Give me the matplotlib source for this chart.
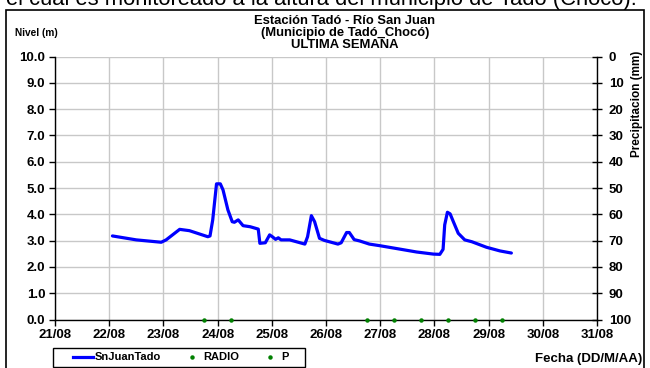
import matplotlib
matplotlib.use("Agg")
import matplotlib.pyplot as plt
from matplotlib.lines import Line2D
from matplotlib.patches import Rectangle

plt.rcParams['font.family'] = ['Liberation Sans', 'DejaVu Sans']

# ---- data (day of August, level in m) ----
nivel_dia = [22.06, 22.50, 22.96, 23.05, 23.30, 23.48, 23.82, 23.86, 23.91, 23.98,
             24.05, 24.10, 24.19, 24.27, 24.31, 24.38, 24.47, 24.60, 24.75, 24.78,
             24.88, 24.96, 25.01, 25.07, 25.12, 25.17, 25.33, 25.61, 25.66, 25.73,
             25.79, 25.88, 25.97, 26.22, 26.28, 26.38, 26.43, 26.52, 26.62, 26.80,
             26.99, 27.36, 27.67, 27.98, 28.10, 28.16, 28.19, 28.24, 28.29, 28.35,
             28.44, 28.56, 28.69, 28.96, 29.21, 29.42]
nivel_m = [3.18, 3.03, 2.94, 3.03, 3.43, 3.38, 3.15, 3.18, 3.79, 5.16,
           5.16, 4.93, 4.17, 3.72, 3.70, 3.79, 3.57, 3.53, 3.44, 2.90,
           2.92, 3.22, 3.15, 3.05, 3.11, 3.03, 3.03, 2.87, 3.15, 3.95,
           3.72, 3.09, 3.01, 2.87, 2.92, 3.31, 3.31, 3.04, 2.99, 2.87,
           2.81, 2.68, 2.57, 2.49, 2.48, 2.67, 3.60, 4.08, 4.02, 3.72,
           3.28, 3.03, 2.96, 2.75, 2.61, 2.53]
radio_dia = []
radio_m = []
p_dia = [23.75, 24.25, 26.75, 27.25, 27.75, 28.25, 28.75, 29.25]
p_m = [0, 0, 0, 0, 0, 0, 0, 0]

x_ticks = [21, 22, 23, 24, 25, 26, 27, 28, 29, 30, 31]
x_labels = ["21/08", "22/08", "23/08", "24/08", "25/08", "26/08",
            "27/08", "28/08", "29/08", "30/08", "31/08"]
y_ticks = [0, 1, 2, 3, 4, 5, 6, 7, 8, 9, 10]
precip_ticks = [0, 10, 20, 30, 40, 50, 60, 70, 80, 90, 100]

W, H = 650, 368
fig = plt.figure(figsize=(6.5, 3.68), dpi=100)
ax = fig.add_axes([55/W, 1 - 319.6/H, (597-55)/W, (319.6-56.5)/H])

ax.plot(nivel_dia, nivel_m, color='#0000ff', lw=2.3, solid_joinstyle='round',
        solid_capstyle='round', zorder=3)
ax.plot(radio_dia, radio_m, 'o', color='#008000', ms=2.2, zorder=4, clip_on=False)
ax.plot(p_dia, p_m, 'o', color='#008000', ms=2.2, zorder=4, clip_on=False)

ax.set_xlim(21, 31)
ax.set_ylim(0, 10)
ax.set_xticks(x_ticks)
ax.set_xticklabels(x_labels)
ax.set_yticks(y_ticks)
ax.set_yticklabels([f"{v:.1f}" for v in y_ticks])
ax.grid(True, color='#c8c8c8', lw=1.0)
ax.set_axisbelow(True)
ax.spines['top'].set_visible(False)
ax.spines['right'].set_visible(False)
ax.spines['left'].set_linewidth(1.0)
ax.spines['bottom'].set_linewidth(1.0)
ax.tick_params(axis='both', labelsize=9.5, length=4, width=1, pad=3, direction='out')
for lab in ax.get_xticklabels() + ax.get_yticklabels():
    lab.set_fontweight('bold')

ax2 = ax.twinx()
ax2.set_ylim(100, 0)
ax2.set_yticks(precip_ticks)
ax2.set_yticklabels([str(v) for v in precip_ticks])
for s in ['top', 'left', 'bottom']:
    ax2.spines[s].set_visible(False)
ax2.spines['right'].set_linewidth(1.0)
ax2.tick_params(axis='y', labelsize=9.5, length=7, width=1, direction='inout', pad=5)
for lab in ax2.get_yticklabels():
    lab.set_fontweight('bold')

# titles and labels
for txt, yy in [("Estación Tadó - Río San Juan", 20.7),
                ("(Municipio de Tadó_Chocó)", 33.3),
                ("ULTIMA SEMANA", 45.0)]:
    fig.text(345/W, 1 - yy/H, txt, ha='center', va='center', fontsize=9.4, fontweight='bold')
fig.text(15/W, 1 - 33/H, "Nivel (m)", ha='left', va='center', fontsize=7.3, fontweight='bold')
fig.text(637/W, 1 - 104/H, "Precipitacion (mm)", ha='center', va='center', rotation=90,
         fontsize=8.5, fontweight='bold')
fig.text(642/W, 1 - 359/H, "Fecha (DD/M/AA)", ha='right', va='center',
         fontsize=9.5, fontweight='bold')
fig.text(6/W, 1 - 5/H, "el cual es monitoreado a la altura del municipio de Tadó (Chocó).",
         ha='left', va='baseline', fontsize=15.8)

# frame
fig.patches.append(Rectangle((6/W, -0.05), (644-6)/W, 1.05 - 10/H, transform=fig.transFigure,
                             fill=False, edgecolor='black', lw=1.2))
# legend box
fig.patches.append(Rectangle((53/W, 1 - 367/H), (305-53)/W, 19/H, transform=fig.transFigure,
                             fill=False, edgecolor='black', lw=1.0))

handles = [Line2D([], [], color='#0000ff', lw=2.3),
           Line2D([], [], marker='o', ls='none', color='#008000', ms=2.2),
           Line2D([], [], marker='o', ls='none', color='#008000', ms=2.2)]
leg = fig.legend(handles, ["SnJuanTado", "RADIO", "P"], ncol=3,
                 loc='center left', bbox_to_anchor=(73/W, 1 - 357.5/H),
                 frameon=False, prop={'weight': 'bold', 'size': 8},
                 handlelength=1.8, handletextpad=0.12,
                 columnspacing=1.9, borderpad=0, borderaxespad=0)

fig.savefig("out.png", dpi=100)
